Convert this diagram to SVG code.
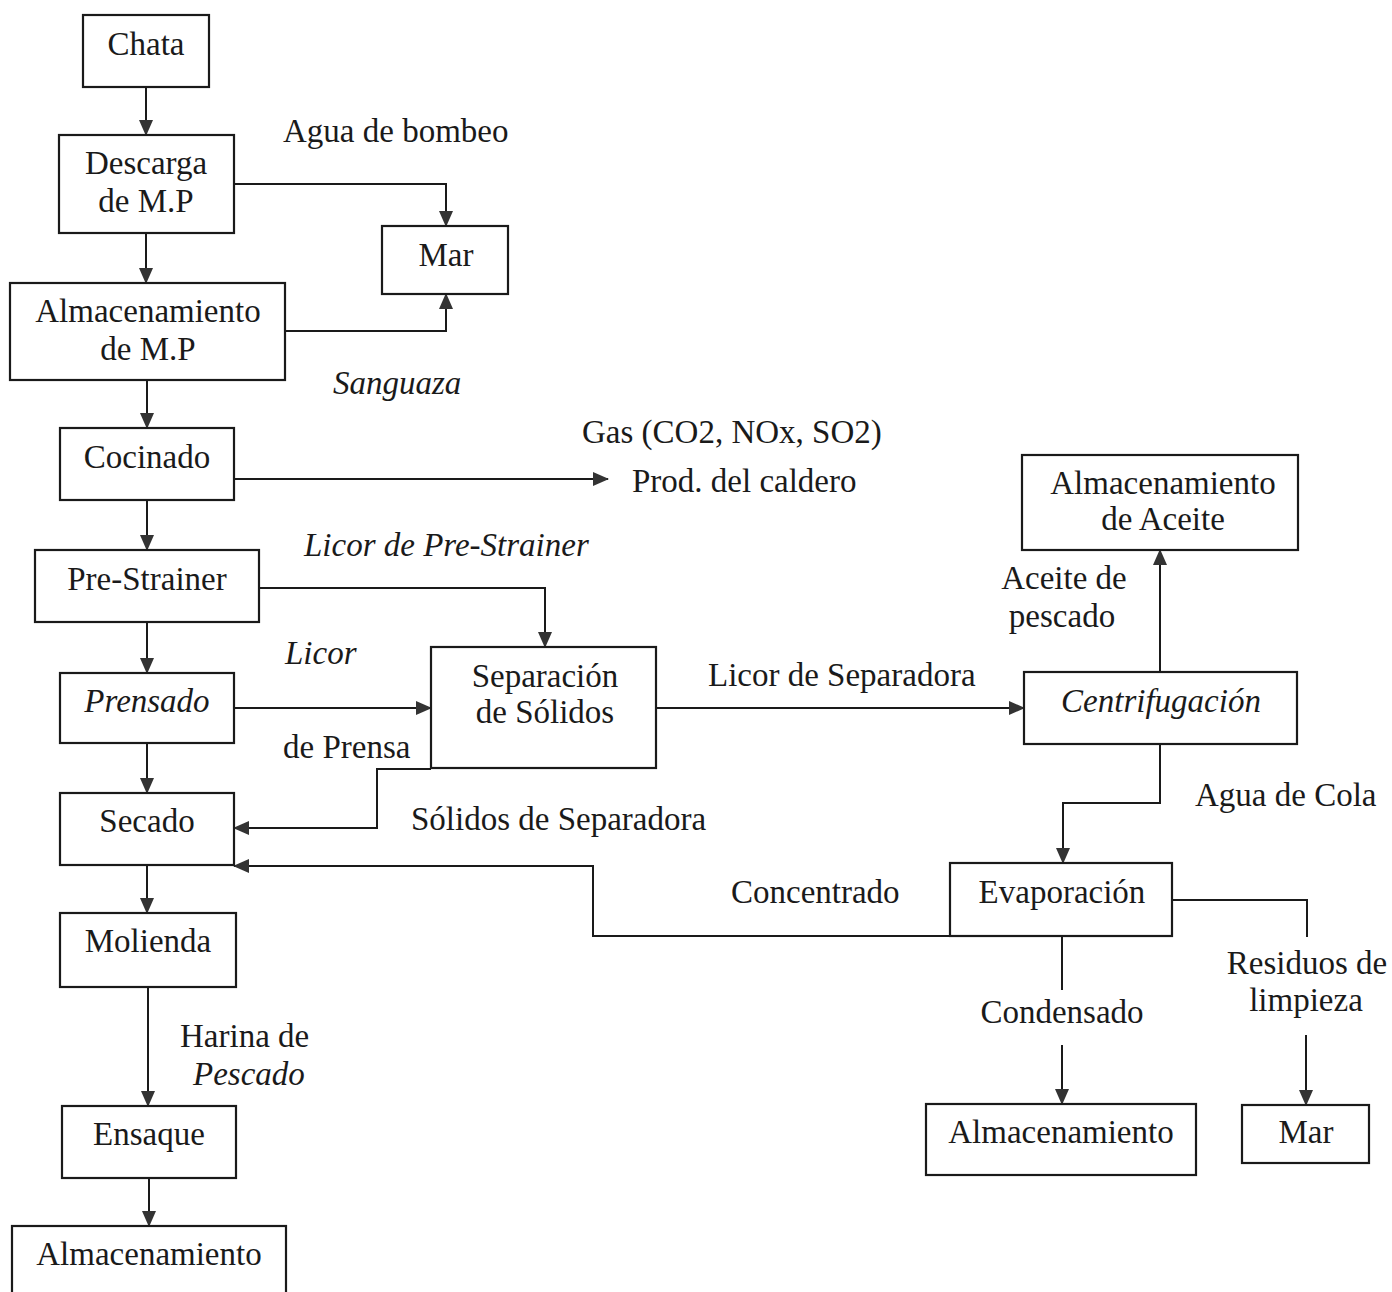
<svg xmlns="http://www.w3.org/2000/svg" width="1392" height="1292" viewBox="0 0 1392 1292">
  <style>
    .box { fill: #fff; stroke: #1a1a1a; stroke-width: 2.2; }
    .t { font-family: "Liberation Serif", "Times New Roman", serif; font-size: 33px; fill: #1a1a1a; }
    .c { text-anchor: middle; }
    .i { font-style: italic; }
    .ln { fill: none; stroke: #1a1a1a; stroke-width: 2; }
  </style>
  <defs>
    <marker id="arr" markerUnits="userSpaceOnUse" markerWidth="16" markerHeight="14" refX="15" refY="7" orient="auto">
      <path d="M0,0 L16,7 L0,14 Z" fill="#333"/>
    </marker>
  </defs>
  <rect width="1392" height="1292" fill="#fff"/>

  <!-- connectors -->
  <g id="connectors">
    <path class="ln" d="M146,87 V135" marker-end="url(#arr)"/>
    <path class="ln" d="M146,233 V283" marker-end="url(#arr)"/>
    <path class="ln" d="M234,184 H446 V226" marker-end="url(#arr)"/>
    <path class="ln" d="M285,331 H446 V294" marker-end="url(#arr)"/>
    <path class="ln" d="M147,380 V428" marker-end="url(#arr)"/>
    <path class="ln" d="M147,500 V550" marker-end="url(#arr)"/>
    <path class="ln" d="M234,479 H608" marker-end="url(#arr)"/>
    <path class="ln" d="M147,622 V673" marker-end="url(#arr)"/>
    <path class="ln" d="M259,588 H545 V647" marker-end="url(#arr)"/>
    <path class="ln" d="M234,708 H431" marker-end="url(#arr)"/>
    <path class="ln" d="M147,743 V793" marker-end="url(#arr)"/>
    <path class="ln" d="M431,769 H377 V828 H234" marker-end="url(#arr)"/>
    <path class="ln" d="M656,708 H1024" marker-end="url(#arr)"/>
    <path class="ln" d="M1160,672 V550" marker-end="url(#arr)"/>
    <path class="ln" d="M1160,744 V803 H1063 V863" marker-end="url(#arr)"/>
    <path class="ln" d="M950,936 H593 V866 H234" marker-end="url(#arr)"/>
    <path class="ln" d="M1172,900 H1307 V937"/>
    <path class="ln" d="M1306,1035 V1105" marker-end="url(#arr)"/>
    <path class="ln" d="M1062,936 V990"/>
    <path class="ln" d="M1062,1045 V1104" marker-end="url(#arr)"/>
    <path class="ln" d="M147,865 V913" marker-end="url(#arr)"/>
    <path class="ln" d="M148,987 V1106" marker-end="url(#arr)"/>
    <path class="ln" d="M149,1178 V1226" marker-end="url(#arr)"/>
  </g>

  <!-- flow labels -->
  <g id="labels">
    <text class="t" x="283" y="142">Agua de bombeo</text>
    <text class="t i" x="333" y="394">Sanguaza</text>
    <text class="t" x="582" y="443">Gas (CO2, NOx, SO2)</text>
    <text class="t" x="632" y="492">Prod. del caldero</text>
    <text class="t i" x="304" y="556">Licor de Pre-Strainer</text>
    <text class="t i" x="285" y="664">Licor</text>
    <text class="t" x="283" y="758">de Prensa</text>
    <text class="t" x="708" y="686">Licor de Separadora</text>
    <text class="t c" x="1064" y="589">Aceite de</text>
    <text class="t c" x="1062" y="627">pescado</text>
    <text class="t" x="1195" y="806">Agua de Cola</text>
    <text class="t" x="411" y="830">Sólidos de Separadora</text>
    <text class="t" x="731" y="903">Concentrado</text>
    <text class="t c" x="1307" y="974">Residuos de</text>
    <text class="t c" x="1306" y="1011">limpieza</text>
    <text class="t c" x="1062" y="1023">Condensado</text>
    <text class="t" x="180" y="1047">Harina de</text>
    <text class="t i" x="193" y="1085">Pescado</text>
  </g>

  <!-- process nodes -->
  <g id="chata"><rect class="box" x="83" y="15" width="126" height="72"/><text class="t c" x="146" y="55">Chata</text></g>
  <g id="descarga"><rect class="box" x="59" y="135" width="175" height="98"/><text class="t c" x="146" y="174">Descarga</text><text class="t c" x="146" y="212">de M.P</text></g>
  <g id="mar-1"><rect class="box" x="382" y="226" width="126" height="68"/><text class="t c" x="446" y="266">Mar</text></g>
  <g id="almacenamiento-mp"><rect class="box" x="10" y="283" width="275" height="97"/><text class="t c" x="148" y="322">Almacenamiento</text><text class="t c" x="148" y="360">de M.P</text></g>
  <g id="cocinado"><rect class="box" x="60" y="428" width="174" height="72"/><text class="t c" x="147" y="468">Cocinado</text></g>
  <g id="pre-strainer"><rect class="box" x="35" y="550" width="224" height="72"/><text class="t c" x="147" y="590">Pre-Strainer</text></g>
  <g id="prensado"><rect class="box" x="60" y="673" width="174" height="70"/><text class="t c i" x="147" y="712">Prensado</text></g>
  <g id="separacion"><rect class="box" x="431" y="647" width="225" height="121"/><text class="t c" x="545" y="687">Separación</text><text class="t c" x="545" y="723">de Sólidos</text></g>
  <g id="secado"><rect class="box" x="60" y="793" width="174" height="72"/><text class="t c" x="147" y="832">Secado</text></g>
  <g id="molienda"><rect class="box" x="60" y="913" width="176" height="74"/><text class="t c" x="148" y="952">Molienda</text></g>
  <g id="ensaque"><rect class="box" x="62" y="1106" width="174" height="72"/><text class="t c" x="149" y="1145">Ensaque</text></g>
  <g id="almacenamiento-harina"><rect class="box" x="12" y="1226" width="274" height="80"/><text class="t c" x="149" y="1265">Almacenamiento</text></g>
  <g id="almacenamiento-aceite"><rect class="box" x="1022" y="455" width="276" height="95"/><text class="t c" x="1163" y="494">Almacenamiento</text><text class="t c" x="1163" y="530">de Aceite</text></g>
  <g id="centrifugacion"><rect class="box" x="1024" y="672" width="273" height="72"/><text class="t c i" x="1161" y="712">Centrifugación</text></g>
  <g id="evaporacion"><rect class="box" x="950" y="863" width="222" height="73"/><text class="t c" x="1062" y="903">Evaporación</text></g>
  <g id="almacenamiento-condensado"><rect class="box" x="926" y="1104" width="270" height="71"/><text class="t c" x="1061" y="1143">Almacenamiento</text></g>
  <g id="mar-2"><rect class="box" x="1242" y="1105" width="127" height="58"/><text class="t c" x="1306" y="1143">Mar</text></g>
</svg>
